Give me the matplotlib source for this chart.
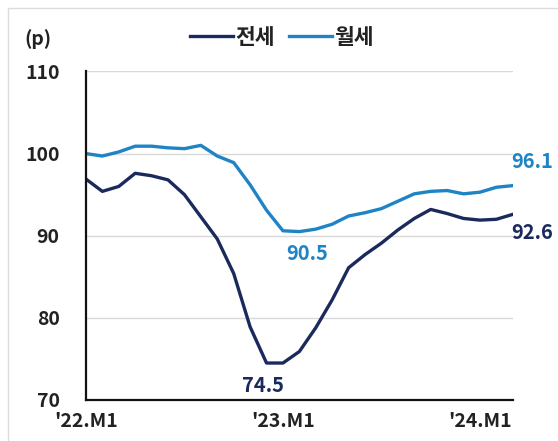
import matplotlib
matplotlib.use("Agg")
import matplotlib.pyplot as plt
import numpy as np
from matplotlib.patches import Rectangle

plt.rcParams['font.family'] = ['Noto Sans CJK KR', 'DejaVu Sans']

# monthly index, '22.M1 .. '24.M3
months = list(range(27))
tick_pos = [0, 12, 24]
tick_labels = ["'22.M1", "'23.M1", "'24.M1"]

jeonse = [96.9, 95.4, 96.0, 97.6, 97.3, 96.8, 95.0, 92.3, 89.6, 85.4, 78.9, 74.5,
          74.5, 75.9, 78.8, 82.2, 86.1, 87.7, 89.1, 90.7, 92.1, 93.2, 92.7, 92.1,
          91.9, 92.0, 92.6]
wolse = [100.0, 99.7, 100.2, 100.9, 100.9, 100.7, 100.6, 101.0, 99.7, 98.9, 96.2, 93.1,
         90.6, 90.5, 90.8, 91.4, 92.4, 92.8, 93.3, 94.2, 95.1, 95.4, 95.5, 95.1,
         95.3, 95.9, 96.1]

c_dark = "#1b2a5c"
c_light = "#1f84c6"

fig = plt.figure(figsize=(5.58, 4.41), dpi=100)
ax = fig.add_axes([0.154, 0.093, 0.765, 0.745])

fig.patches.append(Rectangle((0.014, -0.05), 1.1, 1.032, transform=fig.transFigure,
                             fill=False, edgecolor="#dcdcdc", linewidth=1))

ax.plot(months, jeonse, color=c_dark, linewidth=2.4, label="전세", solid_joinstyle="round")
ax.plot(months, wolse, color=c_light, linewidth=2.4, label="월세", solid_joinstyle="round")

ax.set_ylim(70, 110)
ax.set_xlim(0, 26)
ax.set_yticks([70, 80, 90, 100, 110])
ax.set_xticks(tick_pos)
ax.set_xticklabels(tick_labels)
ax.yaxis.grid(True, color="#d9d9d9", linewidth=1)
ax.set_axisbelow(True)
ax.tick_params(length=0, labelsize=14)
ax.tick_params(axis='y', pad=19)
ax.tick_params(axis='x', pad=9)
for lbl in ax.get_xticklabels() + ax.get_yticklabels():
    lbl.set_fontweight("bold")
    lbl.set_color("#222222")
for s in ["top", "right"]:
    ax.spines[s].set_visible(False)
for s in ["left", "bottom"]:
    ax.spines[s].set_linewidth(1.6)
    ax.spines[s].set_color("#111111")
ax.margins(x=0)

# annotations
ann = dict(fontsize=14.5, fontweight="bold", va="center", clip_on=False)
ax.text(28.45, 99.0, "96.1", color=c_light, ha="right", **ann)
ax.text(28.45, 90.4, "92.6", color=c_dark, ha="right", **ann)
ax.text(13.5, 87.8, "90.5", color=c_light, ha="center", **ann)
ax.text(10.8, 71.8, "74.5", color=c_dark, ha="center", **ann)

fig.text(0.043, 0.912, "(p)", fontsize=14, fontweight="bold", color="#222222",
         ha="left", va="center")
fig.legend(loc="center", bbox_to_anchor=(0.505, 0.915), ncol=2, frameon=False,
           prop={"size": 15.5, "weight": "bold"}, handlelength=2.0, handletextpad=0.1,
           columnspacing=0.7)
for t in fig.legends[0].get_texts():
    t.set_color("#222222")

fig.savefig("out.png", dpi=100)
